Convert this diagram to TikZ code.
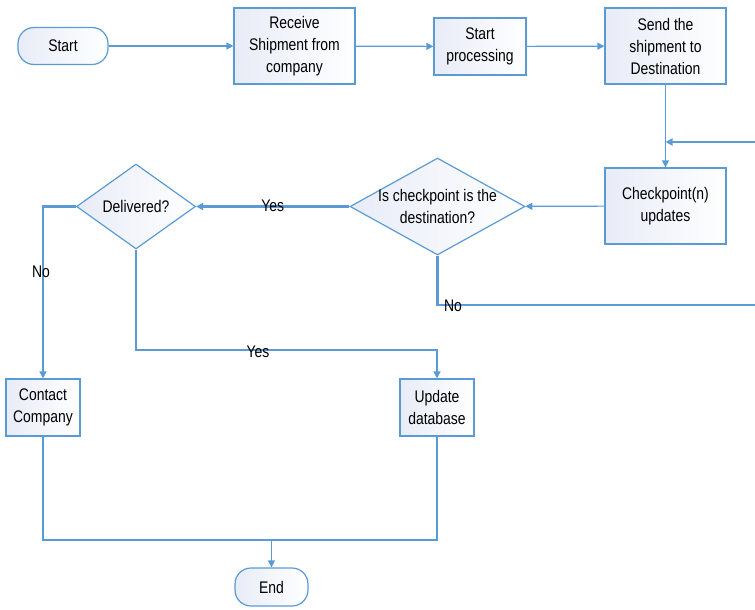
\documentclass[tikz,border=0pt]{standalone}
\usepackage{fontspec}
\setmainfont{Liberation Sans}[FakeStretch=0.83]
\usetikzlibrary{shapes.geometric,arrows.meta}
\definecolor{ln}{HTML}{5B9BD5}
\definecolor{fl}{HTML}{E8ECF7}
\tikzset{
  txt/.style={font=\fontsize{16.8}{22}\selectfont, align=center, text=black},
  boxnode/.style={draw=ln, line width=1.2pt, left color=fl, right color=white, txt, inner sep=0pt},
  term/.style={boxnode, rounded corners=16pt},
  dia/.style={draw=ln, line width=1.2pt, left color=fl, right color=white, shape=diamond, inner sep=0pt},
  thin/.style={draw=ln, line width=1.2pt},
  thickl/.style={draw=ln, line width=2.7pt},
  tip/.style={-{Triangle[length=7pt,width=7pt]}},
  lab/.style={txt}
}
\begin{document}
\begin{tikzpicture}[x=1pt,y=-1pt]
\useasboundingbox (0,0) rectangle (755,610);
\node[term, minimum width=90pt, minimum height=37pt] (start) at (63,46) {Start};
\node[boxnode, minimum width=121pt, minimum height=76pt] (recv) at (294.5,46) {Receive\\Shipment from\\company};
\node[boxnode, minimum width=92pt, minimum height=57pt] (proc) at (480,46.5) {Start\\processing};
\node[boxnode, minimum width=121pt, minimum height=76pt] (send) at (665.5,46) {Send the\\shipment to\\Destination};
\node[boxnode, minimum width=121pt, minimum height=76pt] (chk) at (665.5,206) {Checkpoint(n)\\updates};
\node[dia, minimum width=175pt, minimum height=97pt, label={[txt]center:Is checkpoint is the\\destination?}] (isd) at (437.5,206.5) {};
\node[dia, minimum width=119pt, minimum height=85pt, label={[txt]center:Delivered?}] (del) at (136,206.5) {};
\node[boxnode, minimum width=74pt, minimum height=57pt] (cont) at (43,407.5) {Contact\\Company};
\node[boxnode, minimum width=74pt, minimum height=57pt] (upd) at (437,407.5) {Update\\database};
\node[term, minimum width=73pt, minimum height=38pt] (end) at (271.5,587) {End};
\coordinate (in1) at (755,142);
\coordinate (no1) at (755,305);
\coordinate (join) at (271.5,540);

\draw[thin, tip] (start) -- (recv);
\draw[thin, tip] (recv) -- (proc);
\draw[thin, tip] (proc) -- (send);
\draw[thin, tip] (send) -- (chk);
\draw[thickl, tip] (in1) -- (in1 -| send.south);
\draw[thin, tip] (chk) -- (isd);
\draw[thickl, tip] (isd.west) -- (del.east) node[lab, midway, yshift=1pt] {Yes};
\draw[thickl] (isd.south) |- (no1);
\node[lab] (nolab1) at (453,306) {No};
\draw[thickl, tip] (del.west) -| (cont.north);
\node[lab] (nolab2) at (41,272) {No};
\draw[thickl, tip] (del.south) |- (258,350) -| (upd.north);
\node[lab] (yeslab2) at (258,352) {Yes};
\draw[thin] (cont.south) |- (join) -| (upd.south);
\draw[thin, tip] (join) -- (end);
\end{tikzpicture}
\end{document}
